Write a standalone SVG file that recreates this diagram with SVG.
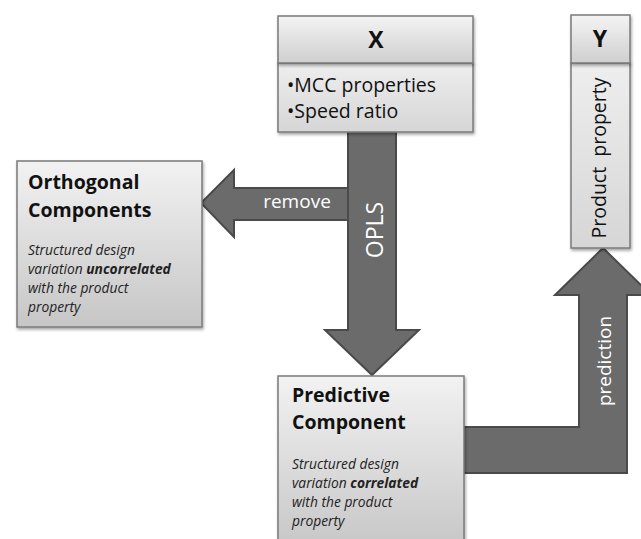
<svg xmlns="http://www.w3.org/2000/svg" width="641" height="539" viewBox="0 0 641 539">
<defs>
<linearGradient id="gBox" x1="0" y1="0" x2="0" y2="1">
<stop offset="0" stop-color="#f2f2f2"/>
<stop offset="1" stop-color="#c6c6c6"/>
</linearGradient>
<linearGradient id="gHead" x1="0" y1="0" x2="0" y2="1">
<stop offset="0" stop-color="#f4f4f4"/>
<stop offset="1" stop-color="#cfcfcf"/>
</linearGradient>
<linearGradient id="gBody" x1="0" y1="0" x2="0" y2="1">
<stop offset="0" stop-color="#eeeeee"/>
<stop offset="1" stop-color="#d6d6d6"/>
</linearGradient>
<filter id="sh" x="-10%" y="-10%" width="130%" height="130%">
<feDropShadow dx="1" dy="2" stdDeviation="1.5" flood-color="#000" flood-opacity="0.35"/>
</filter>
</defs>
<style>
.box{stroke:#7a7a7a;stroke-width:1.5;filter:url(#sh)}
.arrow{fill:#6b6b6b;stroke:#4a4a4a;stroke-width:2;stroke-linejoin:miter}
.t{font-family:"Open Sans","Liberation Sans",sans-serif;fill:#111}
.hb{font-weight:bold;font-size:23px}
.tt{font-weight:bold;font-size:19.5px}
.it{font-style:italic;font-size:13.8px;fill:#222}
.bl{font-size:19.5px}
.w{font-family:"Open Sans","Liberation Sans",sans-serif;fill:#ffffff}
</style>
<g id="connectors">
<path class="arrow" d="M464,427 L579,427 L579,295 L555,295 L603,248 L651,295 L627,295 L627,473 L464,473 Z"/>
<path class="arrow" d="M348,132 L396,132 L396,330 L419,330 L372,375 L325,330 L348,330 Z"/>
<path class="arrow" d="M348,188 L234,188 L234,170 L201,203 L234,237 L234,220 L348,220 Z"/>
<text class="w" x="297" y="208" font-size="19" text-anchor="middle">remove</text>
<text class="w" transform="translate(383,230) rotate(-90)" font-size="23" text-anchor="middle">OPLS</text>
<text class="w" transform="translate(611,361) rotate(-90)" font-size="19" text-anchor="middle">prediction</text>
</g>
<g id="X">
<rect class="box" x="278" y="63" width="195" height="69" fill="url(#gBody)"/>
<rect class="box" x="278" y="16" width="195" height="47" fill="url(#gHead)"/>
<text class="t hb" x="376" y="48" text-anchor="middle">X</text>
<text class="t bl" x="287" y="92">•MCC properties</text>
<text class="t bl" x="287" y="118">•Speed ratio</text>
</g>
<g id="Y">
<rect class="box" x="571" y="63" width="59" height="185" fill="url(#gBody)"/>
<rect class="box" x="571" y="15" width="59" height="48" fill="url(#gHead)"/>
<text class="t hb" x="600" y="47" text-anchor="middle">Y</text>
<text class="t bl" transform="translate(606,158) rotate(-90)" text-anchor="middle" xml:space="preserve">Product  property</text>
</g>
<g id="orthogonal">
<rect class="box" x="17" y="161" width="185" height="166" fill="url(#gBox)"/>
<text class="t tt" x="28" y="189">Orthogonal</text>
<text class="t tt" x="28" y="217">Components</text>
<text class="t it" x="28" y="255">Structured design</text>
<text class="t it" x="28" y="274">variation <tspan font-weight="bold">uncorrelated</tspan></text>
<text class="t it" x="28" y="293">with the product</text>
<text class="t it" x="28" y="312">property</text>
</g>
<g id="predictive">
<rect class="box" x="278" y="376" width="186" height="175" fill="url(#gBox)"/>
<text class="t tt" x="292" y="402">Predictive</text>
<text class="t tt" x="292" y="429">Component</text>
<text class="t it" x="292" y="469">Structured design</text>
<text class="t it" x="292" y="488">variation <tspan font-weight="bold">correlated</tspan></text>
<text class="t it" x="292" y="507">with the product</text>
<text class="t it" x="292" y="526">property</text>
</g>
</svg>
